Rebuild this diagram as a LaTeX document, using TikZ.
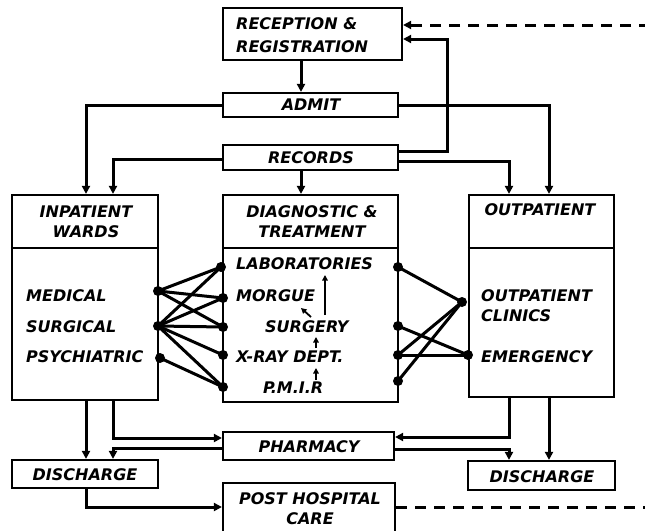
\documentclass[tikz,border=0pt]{standalone}
\usepackage{fontspec}
\newfontfamily\lbl{DejaVu Sans}[BoldFont={* Bold}, ItalicFont={* Oblique}, BoldItalicFont={* Bold Oblique}]
\usetikzlibrary{arrows.meta,calc}
\tikzset{
  box/.style={draw, line width=2.2pt, rectangle, inner sep=0pt},
  lab/.style={font=\lbl\bfseries\itshape\fontsize{16}{20}\selectfont, inner sep=0pt, text=black},
  arr/.style={line width=3pt, -{Triangle[length=8pt,width=8pt]}},
  arrsmall/.style={line width=1.8pt, -{Triangle[length=5.5pt,width=5.5pt]}},
  link/.style={line width=3pt},
  dashline/.style={line width=3pt, dash pattern=on 11pt off 8pt},
  dot/.style={circle, fill=black, inner sep=0pt, minimum size=10pt},
  divider/.style={line width=2.2pt}
}
\begin{document}
\begin{tikzpicture}[x=1pt,y=-1pt]
\clip (0,0) rectangle (645,530);
\fill[white] (0,0) rectangle (645,530);
% column / row helpers
\coordinate (xc) at (301,0);
\coordinate (xL1) at (86,0);
\coordinate (xL2) at (113,0);
\coordinate (xR1) at (509,0);
\coordinate (xR2) at (549,0);
\coordinate (xRet) at (447,0);
% boxes
\node[box, minimum width=179pt, minimum height=52pt] (rec) at (312.5,34) {};
\node[box, minimum width=175pt, minimum height=24pt] (admit) at (310.5,105) {};
\node[box, minimum width=175pt, minimum height=25pt] (records) at (310.5,157.5) {};
\node[box, minimum width=146pt, minimum height=205pt] (inp) at (85,297.5) {};
\node[box, minimum width=175pt, minimum height=207pt] (diag) at (310.5,298.5) {};
\node[box, minimum width=145pt, minimum height=202pt] (outp) at (541.5,296) {};
\node[box, minimum width=171pt, minimum height=28pt] (pharm) at (308.5,446) {};
\node[box, minimum width=146pt, minimum height=28pt] (disL) at (85,474) {};
\node[box, minimum width=147pt, minimum height=29pt] (disR) at (541.5,475.5) {};
\node[box, minimum width=172pt, minimum height=57pt] (post) at (309,511.5) {};
% dividers
\coordinate (dvy) at (0,248);
\draw[divider] (inp.west |- dvy) -- (inp.east |- dvy);
\draw[divider] (diag.west |- dvy) -- (diag.east |- dvy);
\draw[divider] (outp.west |- dvy) -- (outp.east |- dvy);
% texts
\node[lab, align=left, anchor=west] (trec) at (236,35) {RECEPTION \&\\[3pt]REGISTRATION};
\node[lab] (tadmit) at (311,105) {ADMIT};
\node[lab] (trecords) at (311,158) {RECORDS};
\node[lab, align=center] (tinp) at (86,222) {INPATIENT\\WARDS};
\node[lab, align=center] (tdiag) at (312,222) {DIAGNOSTIC \&\\TREATMENT};
\node[lab] (toutp) at (540,210) {OUTPATIENT};
\node[lab, anchor=west] (tLab) at (236,264) {LABORATORIES};
\node[lab, anchor=west] (tMor) at (236,296) {MORGUE};
\node[lab, anchor=west] (tSurg) at (265,327) {SURGERY};
\node[lab, anchor=west] (tXr) at (236,357) {X-RAY DEPT.};
\node[lab, anchor=west] (tPm) at (263,388) {P.M.I.R};
\node[lab, anchor=west] (tMed) at (26,296) {MEDICAL};
\node[lab, anchor=west] (tSu) at (26,327) {SURGICAL};
\node[lab, anchor=west] (tPsy) at (26,357) {PSYCHIATRIC};
\node[lab, anchor=west, align=left] (tClin) at (481,306) {OUTPATIENT\\CLINICS};
\node[lab, anchor=west] (tEm) at (481,357) {EMERGENCY};
\node[lab] (tpharm) at (309,447) {PHARMACY};
\node[lab] (tdisL) at (85,475) {DISCHARGE};
\node[lab] (tdisR) at (542,477) {DISCHARGE};
\node[lab, align=center] (tpost) at (310,508.5) {POST HOSPITAL\\CARE};
% top connectors
\draw[arr] (rec.south -| xc) -- (admit.north -| xc);
\draw[arr] (admit.west) -| (xL1 |- inp.north);
\draw[arr] (admit.east) -| (xR2 |- outp.north);
\draw[arr] ([yshift=-1.5pt]records.west) -| (xL2 |- inp.north);
\draw[arr] ([yshift=-3.5pt]records.east) -| (xR1 |- outp.north);
\draw[arr] (records.south -| xc) -- (diag.north -| xc);
\coordinate (recin) at ([yshift=-5pt]rec.east);
\draw[arr] ([yshift=6.5pt]records.east) -| (xRet |- recin) -- (recin);
\coordinate (recdash) at ([yshift=9pt]rec.east);
\coordinate (dashend1) at (650,25);
\draw[dashline, -{Triangle[length=8pt,width=8pt]}] (dashend1) -- (recdash);
% bottom connectors
\draw[arr] (inp.south -| xL1) -- (disL.north -| xL1);
\coordinate (phin1) at ([yshift=8pt]pharm.west);
\draw[arr] (inp.south -| xL2) |- (phin1);
\coordinate (phoutL) at ([yshift=-2pt]pharm.west);
\draw[arr] (phoutL) -| (disL.north -| xL2);
\coordinate (phin2) at ([yshift=9pt]pharm.east);
\draw[arr] (outp.south -| xR1) |- (phin2);
\coordinate (phoutR) at ([yshift=-3pt]pharm.east);
\draw[arr] (phoutR) -| (disR.north -| xR1);
\draw[arr] (outp.south -| xR2) -- (disR.north -| xR2);
\coordinate (postin) at ([yshift=4.5pt]post.west);
\draw[arr] (disL.south -| xL1) |- (postin);
\coordinate (postout) at ([yshift=4.5pt]post.east);
\coordinate (dashend2) at (650,507);
\draw[dashline] (postout) -- (dashend2);
% dots
\node[dot] (dMed) at (158,291) {};
\node[dot] (dSu) at (158,326) {};
\node[dot] (dPsy) at (160,358) {};
\node[dot] (lLab) at (221,267) {};
\node[dot] (lMor) at (223,298) {};
\node[dot] (lSurg) at (223,327) {};
\node[dot] (lXr) at (223,355) {};
\node[dot] (lPm) at (223,387) {};
\node[dot] (rLab) at (398,267) {};
\node[dot] (rSurg) at (398,326) {};
\node[dot] (rXr) at (398,355) {};
\node[dot] (rPm) at (398,381) {};
\node[dot] (oCl) at (462,302) {};
\node[dot] (oEm) at (468,355) {};
% links
\draw[link] (dMed.center) -- (lLab.center);
\draw[link] (dMed.center) -- (lMor.center);
\draw[link] (dMed.center) -- (lSurg.center);
\draw[link] (dSu.center) -- (lLab.center);
\draw[link] (dSu.center) -- (lMor.center);
\draw[link] (dSu.center) -- (lSurg.center);
\draw[link] (dSu.center) -- (lXr.center);
\draw[link] (dSu.center) -- (lPm.center);
\draw[link] (dPsy.center) -- (lPm.center);
\draw[link] (rLab.center) -- (oCl.center);
\draw[link] (rXr.center) -- (oCl.center);
\draw[link] (rPm.center) -- (oCl.center);
\draw[link] (rSurg.center) -- (oEm.center);
\draw[link] (rXr.center) -- (oEm.center);
% small internal arrows
\coordinate (a1s) at (325,315);
\coordinate (a1e) at (325,275);
\draw[arrsmall] (a1s) -- (a1e);
\coordinate (a2s) at (311,317);
\coordinate (a2e) at (301,308);
\draw[arrsmall] (a2s) -- (a2e);
\coordinate (a3s) at (316,348);
\coordinate (a3e) at (316,337);
\draw[arrsmall] (a3s) -- (a3e);
\coordinate (a4s) at (316,380);
\coordinate (a4e) at (316,368);
\draw[arrsmall] (a4s) -- (a4e);
\end{tikzpicture}
\end{document}
